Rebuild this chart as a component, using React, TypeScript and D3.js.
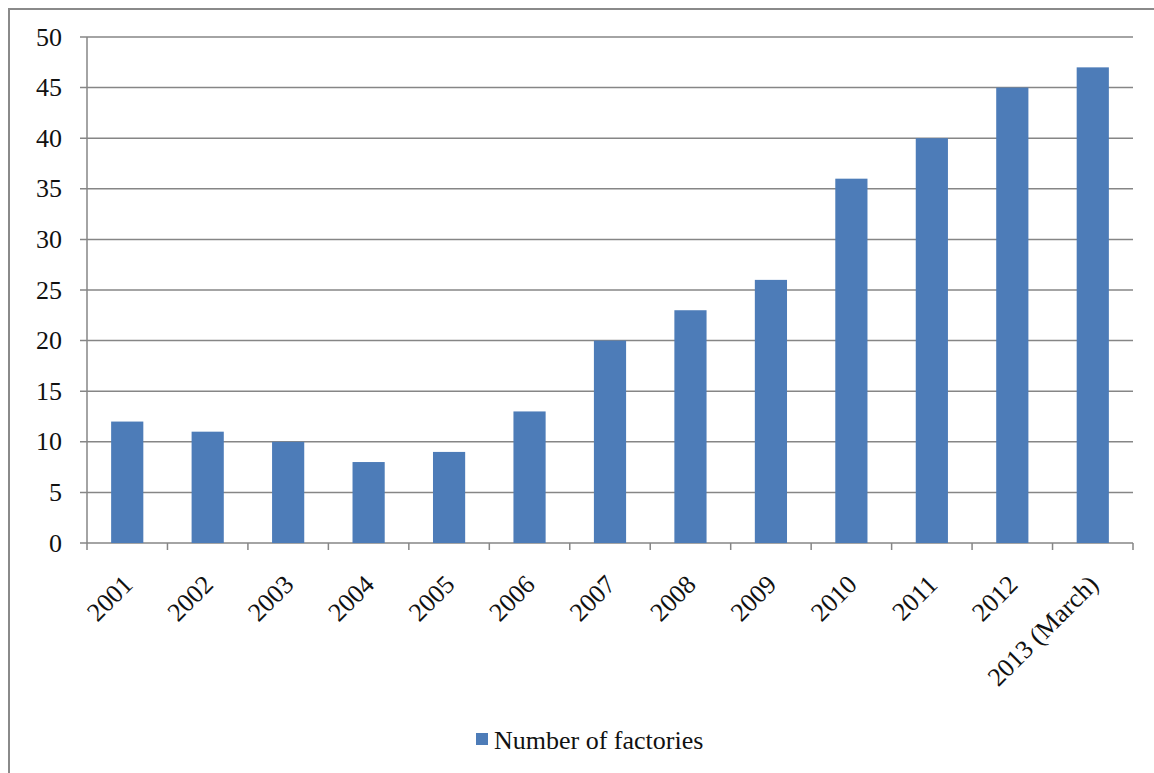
import React from "react";
import * as d3 from "d3";

const categories = ["2001","2002","2003","2004","2005","2006","2007","2008","2009","2010","2011","2012","2013 (March)"];
const values = [12, 11, 10, 8, 9, 13, 20, 23, 26, 36, 40, 45, 47];
const yTicks = [0, 5, 10, 15, 20, 25, 30, 35, 40, 45, 50];
const seriesName = "Number of factories";

const W = 1154, H = 773;
const left = 87, right = 1133, top = 37, bottom = 543;
const font = "'Liberation Serif', 'Times New Roman', serif";
const fs = 26;

export default function App() {
  const x = d3.scaleBand<string>().domain(categories).range([left, right]).paddingInner(0).paddingOuter(0);
  const y = d3.scaleLinear().domain([0, 50]).range([bottom, top]);
  const bw = x.bandwidth() * 0.4;
  const grid = "#868686";
  return (
    <svg width={W} height={H} style={{ position: "absolute", left: 0, top: 0 }}>
      <rect x={0} y={0} width={W} height={H} fill="#fff" />
      <path d={`M9,${H} V9 H${W}`} fill="none" stroke="#8a8a8a" strokeWidth={2} />
      {yTicks.map(t => (
        <g key={t}>
          <line x1={left - 7} x2={right} y1={y(t)} y2={y(t)} stroke={grid} strokeWidth={1.5} />
          <text x={62} y={y(t) + 8.5} textAnchor="end" fontFamily={font} fontSize={fs} fill="#111">{t}</text>
        </g>
      ))}
      <line x1={left} x2={left} y1={top} y2={bottom} stroke={grid} strokeWidth={1.5} />
      {categories.map((c, i) => (
        <line key={"t" + i} x1={x(c)!} x2={x(c)!} y1={bottom} y2={bottom + 7} stroke={grid} strokeWidth={1.5} />
      ))}
      <line x1={right} x2={right} y1={bottom} y2={bottom + 7} stroke={grid} strokeWidth={1.5} />
      {categories.map((c, i) => (
        <rect key={c} x={x(c)! + (x.bandwidth() - bw) / 2} y={y(values[i])} width={bw} height={bottom - y(values[i])} fill="#4D7CB8" />
      ))}
      {categories.map((c) => {
        const cx = x(c)! + x.bandwidth() / 2 + 7;
        const cy = bottom + 43;
        return (
          <text key={"l" + c} transform={`translate(${cx},${cy}) rotate(-45)`} textAnchor="end" fontFamily={font} fontSize={fs} fill="#111">{c}</text>
        );
      })}
      <rect x={476} y={733} width={12} height={12} fill="#4D7CB8" />
      <text x={494} y={749} fontFamily={font} fontSize={fs} fill="#111">{seriesName}</text>
    </svg>
  );
}
